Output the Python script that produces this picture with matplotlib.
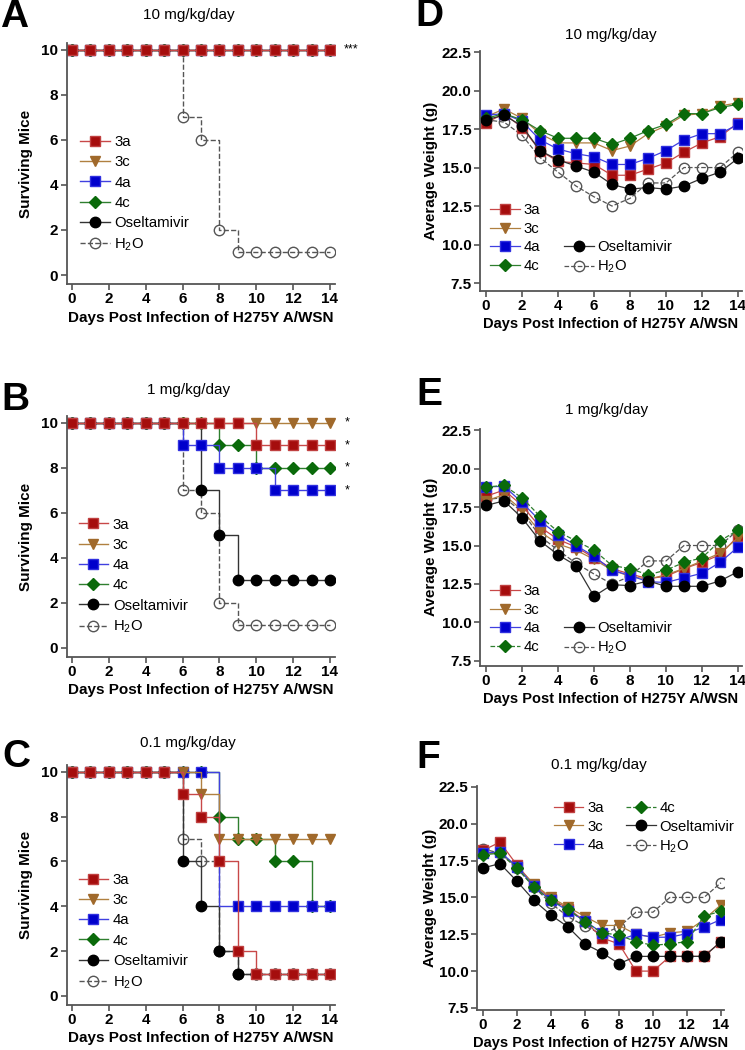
import numpy as np
import matplotlib
matplotlib.use('Agg')
import matplotlib.pyplot as plt
from matplotlib.lines import Line2D

plt.rcParams['font.family'] = ['Liberation Sans', 'DejaVu Sans']
plt.rcParams['mathtext.fontset'] = 'custom'
plt.rcParams['mathtext.rm'] = 'Liberation Sans'
plt.rcParams['mathtext.default'] = 'regular'

days = [0, 1, 2, 3, 4, 5, 6, 7, 8, 9, 10, 11, 12, 13, 14]
series = ['3a', '3c', '4a', '4c', 'Oseltamivir', 'H$_2$O']

# surviving mice
A_3a = [10, 10, 10, 10, 10, 10, 10, 10, 10, 10, 10, 10, 10, 10, 10]
A_3c = [10, 10, 10, 10, 10, 10, 10, 10, 10, 10, 10, 10, 10, 10, 10]
A_4a = [10, 10, 10, 10, 10, 10, 10, 10, 10, 10, 10, 10, 10, 10, 10]
A_4c = [10, 10, 10, 10, 10, 10, 10, 10, 10, 10, 10, 10, 10, 10, 10]
A_osel = [10, 10, 10, 10, 10, 10, 10, 10, 10, 10, 10, 10, 10, 10, 10]
A_h2o = [10, 10, 10, 10, 10, 10, 7, 6, 2, 1, 1, 1, 1, 1, 1]

B_3a = [10, 10, 10, 10, 10, 10, 10, 10, 10, 10, 9, 9, 9, 9, 9]
B_3c = [10, 10, 10, 10, 10, 10, 10, 10, 10, 10, 10, 10, 10, 10, 10]
B_4a = [10, 10, 10, 10, 10, 10, 9, 9, 8, 8, 8, 7, 7, 7, 7]
B_4c = [10, 10, 10, 10, 10, 10, 10, 10, 9, 9, 8, 8, 8, 8, 8]
B_osel = [10, 10, 10, 10, 10, 10, 10, 7, 5, 3, 3, 3, 3, 3, 3]
B_h2o = [10, 10, 10, 10, 10, 10, 7, 6, 2, 1, 1, 1, 1, 1, 1]

C_3a = [10, 10, 10, 10, 10, 10, 9, 8, 6, 2, 1, 1, 1, 1, 1]
C_3c = [10, 10, 10, 10, 10, 10, 10, 9, 7, 7, 7, 7, 7, 7, 7]
C_4a = [10, 10, 10, 10, 10, 10, 10, 10, 4, 4, 4, 4, 4, 4, 4]
C_4c = [10, 10, 10, 10, 10, 10, 10, 10, 8, 7, 7, 6, 6, 4, 4]
C_osel = [10, 10, 10, 10, 10, 10, 6, 4, 2, 1, 1, 1, 1, 1, 1]
C_h2o = [10, 10, 10, 10, 10, 10, 7, 6, 2, 1, 1, 1, 1, 1, 1]
C_4a_marked = [0, 1, 2, 3, 4, 5, 6, 7, 9, 10, 11, 12, 13, 14]

# average weight (g)
D_3a = [17.9, 18.5, 17.6, 16.1, 15.4, 15.3, 15.2, 14.5, 14.5, 14.9, 15.3, 16.0, 16.6, 17.0, 17.9]
D_3c = [18.3, 18.8, 18.2, 17.2, 16.6, 16.6, 16.6, 16.1, 16.4, 17.2, 17.7, 18.4, 18.5, 19.0, 19.2]
D_4a = [18.4, 18.5, 18.0, 16.8, 16.2, 15.9, 15.7, 15.2, 15.2, 15.6, 16.1, 16.8, 17.2, 17.2, 17.8]
D_4c = [18.2, 18.5, 18.1, 17.4, 16.9, 16.9, 16.9, 16.5, 16.9, 17.4, 17.8, 18.5, 18.5, 18.9, 19.1]
D_osel = [18.1, 18.4, 17.7, 16.1, 15.5, 15.1, 14.7, 13.9, 13.6, 13.7, 13.6, 13.8, 14.3, 14.7, 15.6]
D_h2o = [18.1, 17.95, 17.1, 15.65, 14.7, 13.8, 13.1, 12.5, 13.0, 14.0, 14.0, 15.0, 15.0, 15.0, 16.0]

E_3a = [18.2, 18.6, 17.6, 16.2, 15.4, 14.9, 14.2, 13.5, 13.15, 12.85, 13.0, 13.5, 13.9, 14.4, 15.6]
E_3c = [17.9, 18.3, 17.3, 15.9, 15.1, 14.7, 14.1, 13.4, 13.0, 12.8, 13.1, 13.5, 14.0, 14.5, 15.5]
E_4a = [18.8, 18.85, 17.8, 16.6, 15.7, 15.0, 14.3, 13.4, 13.05, 12.65, 12.6, 12.9, 13.2, 13.9, 14.9]
E_4c = [18.8, 18.9, 18.1, 16.9, 15.9, 15.3, 14.7, 13.7, 13.5, 13.1, 13.4, 13.9, 14.2, 15.3, 16.0]
E_osel = [17.6, 17.9, 16.8, 15.3, 14.4, 13.7, 11.7, 12.45, 12.4, 12.7, 12.35, 12.35, 12.35, 12.7, 13.3]
E_h2o = [18.0, 18.1, 17.2, 15.6, 14.7, 13.85, 13.15, 12.5, 13.0, 14.0, 14.0, 15.0, 15.0, 15.0, 16.0]

F_3a = [18.2, 18.75, 17.2, 15.85, 14.9, 14.25, 13.4, 12.25, 11.85, 10.0, 10.0, 11.0, 11.0, 11.0, 12.0]
F_3c = [18.0, 18.0, 17.1, 15.9, 15.0, 14.35, 13.7, 13.1, 13.1, 12.5, 12.3, 12.6, 12.7, 13.5, 14.5]
F_4a = [18.0, 18.1, 17.1, 15.75, 14.8, 14.1, 13.4, 12.6, 12.1, 12.5, 12.3, 12.3, 12.55, 13.0, 13.5]
F_4c = [17.9, 18.0, 17.0, 15.7, 14.8, 14.2, 13.35, 12.6, 12.45, 12.0, 11.75, 11.85, 12.0, 13.75, 14.05]
F_osel = [17.0, 17.3, 16.1, 14.8, 13.8, 13.0, 11.85, 11.25, 10.5, 11.0, 11.0, 11.0, 11.0, 11.0, 12.0]
F_h2o = [18.3, 18.0, 17.0, 15.7, 14.6, 13.7, 13.05, 12.5, 13.0, 14.0, 14.0, 15.0, 15.0, 15.0, 16.0]

# style per series: marker, marker face, line colour
mk = ['s', 'v', 's', 'D', 'o', 'o']
mface = ['#a50d0d', '#a0692b', '#0000cc', '#0a6a0a', 'black', 'none']
medge = ['#c04040', '#a0692b', '#3030e0', '#0a6a0a', 'black', '#555555']
lcol = ['#c84848', '#b08040', '#4040e0', '#2f7f2f', '#333333', '#555555']
msz = [7.5, 7, 7.5, 6, 7.5, 7.5]

W, H = 745.0, 1050.0
fig = plt.figure(figsize=(7.45, 10.5), dpi=100)


def fig_text(x, y, s, **kw):
    # x, y in pixels from top-left
    fig.text(x / W, 1 - y / H, s, ha='center', va='center', **kw)


def style_axes(ax):
    for s in ['top', 'right']:
        ax.spines[s].set_visible(False)
    for s in ['left', 'bottom']:
        ax.spines[s].set_color('#555555')
        ax.spines[s].set_linewidth(1.3)
    ax.tick_params(direction='out', length=4, width=1.2, color='#555555', labelsize=11, pad=2)
    for lab in ax.get_xticklabels() + ax.get_yticklabels():
        lab.set_fontweight('bold')


def survival(ax, data, order, ylx, stars, marked=None):
    hs = [None] * 6
    for i in order:
        ls = '--' if i == 5 else '-'
        me = marked[i] if marked and i in marked else None
        h, = ax.plot(days, data[i], drawstyle='steps-post', color=lcol[i], lw=1.0, ls=ls,
                     marker=mk[i], markersize=msz[i], mfc=mface[i], mec=medge[i], mew=1.0,
                     markevery=me)
        hs[i] = h
    ax.set_xlim(-0.3, 14.3)
    ax.set_ylim(-0.4, 10.3)
    ax.set_xticks([0, 2, 4, 6, 8, 10, 12, 14])
    ax.set_yticks([0, 2, 4, 6, 8, 10])
    ax.set_xlabel('Days Post Infection of H275Y A/WSN', fontsize=11, fontweight='bold', labelpad=3)
    ax.set_ylabel('Surviving Mice', fontsize=11, fontweight='bold')
    ax.yaxis.set_label_coords(ylx, 0.5)
    for x, y, s in stars:
        ax.text(x, y, s, fontsize=9, ha='left', va='center', clip_on=False)
    style_axes(ax)
    return hs


def weight(ax, data, ylim, dashed4c):
    hs = [None] * 6
    for i in [5, 0, 1, 2, 3, 4]:
        ls = '--' if i == 5 or (i == 3 and dashed4c) else '-'
        h, = ax.plot(days, data[i], color=lcol[i], lw=0.9, ls=ls,
                     marker=mk[i], markersize=msz[i], mfc=mface[i], mec=medge[i], mew=1.0)
        hs[i] = h
    ax.set_xlim(-0.35, 14.2)
    ax.set_ylim(*ylim)
    ax.set_xticks([0, 2, 4, 6, 8, 10, 12, 14])
    ax.set_yticks([7.5, 10.0, 12.5, 15.0, 17.5, 20.0, 22.5])
    ax.set_yticklabels(['7.5', '10.0', '12.5', '15.0', '17.5', '20.0', '22.5'])
    ax.set_xlabel('Days Post Infection of H275Y A/WSN', fontsize=10.5, fontweight='bold', labelpad=3)
    ax.set_ylabel('Average Weight (g)', fontsize=11, fontweight='bold')
    ax.yaxis.set_label_coords(-0.16, 0.5)
    style_axes(ax)
    return hs


def surv_legend(ax, hs, anchor):
    ax.legend(hs, series, loc='lower left', bbox_to_anchor=anchor, frameon=False, fontsize=10.7,
              handlelength=2.0, handletextpad=0.3, labelspacing=0.42, borderpad=0, borderaxespad=0)


def weight_legend(ax, hs, anchor):
    ax.legend([hs[0], hs[1], hs[2], hs[3], blank, blank, hs[4], hs[5]],
              ['3a', '3c', '4a', '4c', '', '', 'Oseltamivir', 'H$_2$O'], ncol=2,
              loc='lower left', bbox_to_anchor=anchor, frameon=False, fontsize=10.7,
              handlelength=2.0, handletextpad=0.25, labelspacing=0.3, columnspacing=1.6,
              borderpad=0, borderaxespad=0)


blank = Line2D([], [], ls='none')

# A
axA = fig.add_axes([0.0893, 0.7295, 0.361, 0.2295])
hA = survival(axA, [A_3a, A_3c, A_4a, A_4c, A_osel, A_h2o], [5, 4, 3, 2, 1, 0],
              -0.126, [(14.75, 10, '***')])
surv_legend(axA, hA, (0.05, 0.13))

# B
axB = fig.add_axes([0.0893, 0.3743, 0.361, 0.2295])
hB = survival(axB, [B_3a, B_3c, B_4a, B_4c, B_osel, B_h2o], [5, 4, 3, 2, 1, 0],
              -0.126, [(14.8, 10, '*'), (14.8, 9, '*'), (14.8, 8, '*'), (14.8, 7, '*')])
surv_legend(axB, hB, (0.045, 0.09))

# C
axC = fig.add_axes([0.0893, 0.0429, 0.361, 0.2286])
hC = survival(axC, [C_3a, C_3c, C_4a, C_4c, C_osel, C_h2o], [5, 4, 3, 2, 1, 0],
              -0.126, [], marked={2: C_4a_marked})
surv_legend(axC, hC, (0.045, 0.06))

# D
axD = fig.add_axes([0.6439, 0.7231, 0.3515, 0.2288])
hD = weight(axD, [D_3a, D_3c, D_4a, D_4c, D_osel, D_h2o], (7.0, 22.6), False)
weight_legend(axD, hD, (0.04, 0.065))

# E
axE = fig.add_axes([0.6439, 0.3661, 0.3515, 0.2258])
hE = weight(axE, [E_3a, E_3c, E_4a, E_4c, E_osel, E_h2o], (7.2, 22.6), True)
weight_legend(axE, hE, (0.04, 0.04))

# F
axF = fig.add_axes([0.6403, 0.0381, 0.332, 0.2138])
hF = weight(axF, [F_3a, F_3c, F_4a, F_4c, F_osel, F_h2o], (7.36, 22.6), True)
axF.legend(hF, series, ncol=2, loc='upper left', bbox_to_anchor=(0.31, 0.93), frameon=False,
           fontsize=10.7, handlelength=2.0, handletextpad=0.25, labelspacing=0.3,
           columnspacing=1.5, borderpad=0, borderaxespad=0)

# titles and panel letters
fig_text(189, 15, '10 mg/kg/day', fontsize=11)
fig_text(189, 390, '1 mg/kg/day', fontsize=11)
fig_text(188, 743, '0.1 mg/kg/day', fontsize=11)
fig_text(611, 35, '10 mg/kg/day', fontsize=11)
fig_text(607, 410, '1 mg/kg/day', fontsize=11)
fig_text(599, 765, '0.1 mg/kg/day', fontsize=11)

fig_text(14, 17, 'A', fontsize=28, fontweight='bold')
fig_text(15, 400, 'B', fontsize=28, fontweight='bold')
fig_text(16, 757, 'C', fontsize=28, fontweight='bold')
fig_text(429, 16, 'D', fontsize=28, fontweight='bold')
fig_text(429, 395, 'E', fontsize=28, fontweight='bold')
fig_text(428, 758, 'F', fontsize=28, fontweight='bold')

fig.savefig('out.png', dpi=100)
